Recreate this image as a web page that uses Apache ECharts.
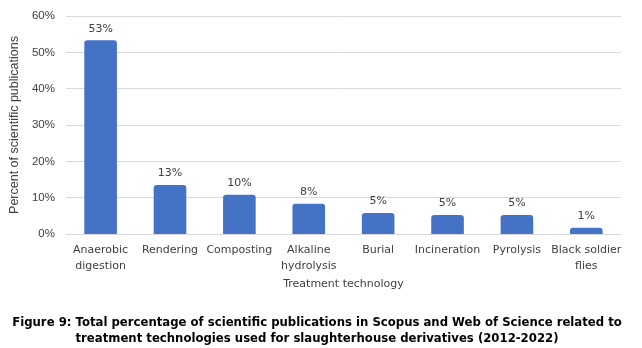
<!DOCTYPE html>
<html>
<head>
<meta charset="utf-8">
<script src="https://cdn.jsdelivr.net/npm/echarts@6/dist/echarts.min.js"></script>
<style>
  html, body { margin: 0; padding: 0; background: #fff; }
  #chart { width: 642px; height: 348px; }
</style>
</head>
<body>
<div id="chart"></div>
<script>
// categories and values
var categories = ['Anaerobic\ndigestion', 'Rendering', 'Composting', 'Alkaline\nhydrolysis',
                  'Burial', 'Incineration', 'Pyrolysis', 'Black soldier\nflies'];
var shares = [53.3, 13.5, 10.8, 8.3, 5.8, 5.2, 5.2, 1.7];
var shareLabels = ['53%', '13%', '10%', '8%', '5%', '5%', '5%', '1%'];
var yTicks = [0, 10, 20, 30, 40, 50, 60];
var caption = 'Figure 9: Total percentage of scientific publications in Scopus and Web of Science related to\n' +
              'treatment technologies used for slaughterhouse derivatives (2012-2022)';

var chart = echarts.init(document.getElementById('chart'));

var option = {
  animation: false,
  backgroundColor: '#ffffff',
  grid: { left: 60, right: 21, top: 16, bottom: 114 },
  graphic: [{
    type: 'text',
    x: 317,
    y: 315,
    style: {
      text: caption,
      textAlign: 'center',
      fontFamily: 'DejaVu Sans',
      fontSize: 11.7,
      fontWeight: 'bold',
      lineHeight: 16,
      fill: '#000'
    }
  }],
  xAxis: {
    type: 'category',
    data: categories,
    name: 'Treatment technology',
    nameLocation: 'middle',
    nameGap: 42,
    nameTextStyle: { fontFamily: 'DejaVu Sans', fontSize: 11, color: '#404040' },
    axisLine: { lineStyle: { color: '#d9d9d9' } },
    axisTick: { show: false },
    axisLabel: { fontFamily: 'DejaVu Sans', fontSize: 11, color: '#404040', lineHeight: 16, margin: 8, interval: 0 }
  },
  yAxis: {
    type: 'value',
    min: yTicks[0],
    max: yTicks[yTicks.length - 1],
    interval: 10,
    name: 'Percent of scientific publications',
    nameLocation: 'middle',
    nameGap: 33,
    nameTextStyle: { fontFamily: 'Liberation Sans', fontSize: 12.5, color: '#404040' },
    axisLine: { show: false },
    axisTick: { show: false },
    splitLine: { lineStyle: { color: '#d9d9d9' } },
    axisLabel: { fontFamily: 'Liberation Sans', fontSize: 11.5, color: '#404040', formatter: '{value}%', margin: 11 }
  },
  series: [{
    type: 'bar',
    data: shares,
    barWidth: '47%',
    itemStyle: { color: '#4472c4', borderRadius: [3, 3, 0, 0] },
    label: {
      show: true,
      position: 'top',
      distance: 6,
      fontFamily: 'DejaVu Sans',
      fontSize: 11,
      color: '#404040',
      formatter: function (p) { return shareLabels[p.dataIndex]; }
    }
  }]
};

chart.setOption(option);
</script>
</body>
</html>
